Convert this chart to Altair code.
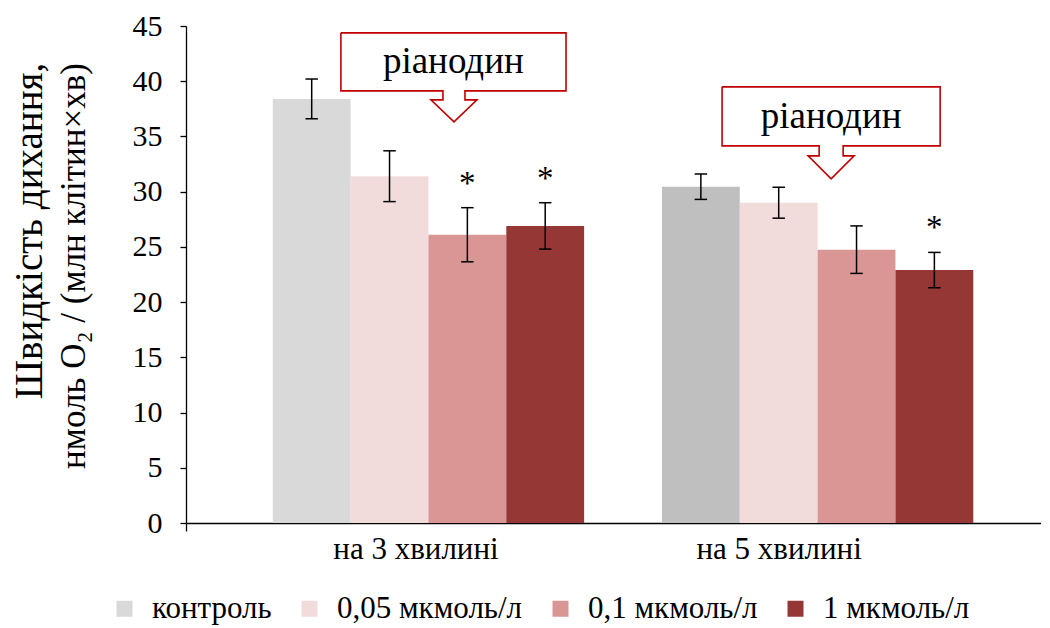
import altair as alt
import pandas as pd

# ---------------- data ----------------
groups = ["на 3 хвилині", "на 5 хвилині"]
series = ["контроль", "0,05 мкмоль/л", "0,1 мкмоль/л", "1 мкмоль/л"]
means_3 = [38.4, 31.4, 26.1, 26.9]
err_3 = [1.8, 2.3, 2.45, 2.1]
means_5 = [30.45, 29.0, 24.75, 22.9]
err_5 = [1.15, 1.4, 2.15, 1.6]
sig_3 = [False, False, True, True]
sig_5 = [False, False, False, True]
y_ticks = [0, 5, 10, 15, 20, 25, 30, 35, 40, 45]

series_colors = ["#D9D9D9", "#F2DCDB", "#D99694", "#953735"]
control_5_key = "контроль (5 хв)"
control_5_color = "#BFBFBF"

callout_text = "ріанодин"
# callout outlines (x in group units, y in axis units)
callout1_x = [0.775, 1.3535, 1.3535, 1.0938, 1.0938, 1.1247, 1.0656, 1.0064, 1.0373, 1.0373, 0.775, 0.775]
callout1_y = [44.38, 44.38, 39.13, 39.13, 38.31, 38.31, 36.32, 38.31, 38.31, 39.13, 39.13, 44.38]
callout2_x = [1.7545, 2.3149, 2.3149, 2.0656, 2.0656, 2.0938, 2.0347, 1.9756, 2.0039, 2.0039, 1.7545, 1.7545]
callout2_y = [39.49, 39.49, 34.15, 34.15, 33.24, 33.24, 31.16, 33.24, 33.24, 34.15, 34.15, 39.49]
callout_text_x = [1.064, 2.0347]
callout_text_y = [40.76, 35.78]

group_label_x = [0.968, 1.901]

FONT = "Liberation Serif"
BAR_W = 0.2
X_DOMAIN = [0.377, 2.574]

# ---------------- tables ----------------
rows = []
for gi, (g, means, errs, sigs) in enumerate(
    [(groups[0], means_3, err_3, sig_3), (groups[1], means_5, err_5, sig_5)]
):
    for si, s in enumerate(series):
        x0 = (gi + 1) - 0.4 + BAR_W * si
        key = s
        if gi == 1 and si == 0:
            key = control_5_key
        rows.append(
            dict(
                group=g,
                series=s,
                key=key,
                x0=x0,
                x1=x0 + BAR_W,
                xc=x0 + BAR_W / 2,
                capL=x0 + BAR_W / 2 - 0.016,
                capR=x0 + BAR_W / 2 + 0.016,
                mean=means[si],
                lo=means[si] - errs[si],
                hi=means[si] + errs[si],
                sig="*" if sigs[si] else "",
            )
        )
df = pd.DataFrame(rows)

outline = pd.DataFrame(
    [dict(shape=1, order=i, x=x, y=y) for i, (x, y) in enumerate(zip(callout1_x, callout1_y))]
    + [dict(shape=2, order=i, x=x, y=y) for i, (x, y) in enumerate(zip(callout2_x, callout2_y))]
)
ctext = pd.DataFrame(dict(x=callout_text_x, y=callout_text_y, t=[callout_text, callout_text]))
glabels = pd.DataFrame(dict(x=group_label_x, t=groups))

xscale = alt.Scale(domain=X_DOMAIN, nice=False, zero=False)
yscale = alt.Scale(domain=[0, 45], nice=False)

color_scale = alt.Scale(
    domain=series + [control_5_key], range=series_colors + [control_5_color]
)

base = alt.Chart(df)

bars = base.mark_rect().encode(
    x=alt.X(
        "x0:Q",
        scale=xscale,
        axis=alt.Axis(
            values=[X_DOMAIN[0]],
            labels=False,
            title=None,
            domainColor="black",
            domainWidth=1.3,
            tickColor="black",
            tickSize=8,
            tickWidth=1.3,
            grid=False,
        ),
    ),
    x2="x1:Q",
    y=alt.Y(
        "mean:Q",
        scale=yscale,
        axis=alt.Axis(
            values=y_ticks,
            title=None,
            grid=False,
            domainColor="black",
            domainWidth=1.3,
            tickColor="black",
            tickSize=6,
            tickWidth=1.3,
            labelFont=FONT,
            labelFontSize=30,
            labelColor="black",
            labelPadding=18,
        ),
    ),
    y2=alt.datum(0),
    color=alt.Color(
        "key:N",
        scale=color_scale,
        legend=alt.Legend(
            values=series,
            title=None,
            orient="none",
            legendX=-77,
            legendY=567,
            direction="horizontal",
            symbolType="square",
            symbolSize=256,
            symbolStrokeWidth=0,
            labelFont=FONT,
            labelFontSize=31,
            labelColor="black",
            labelOffset=12,
            columnPadding=22,
            labelLimit=400,
        ),
    ),
)

err_v = base.mark_rule(color="black", strokeWidth=1.5).encode(
    x="xc:Q", y="lo:Q", y2="hi:Q"
)
cap_lo = base.mark_rule(color="black", strokeWidth=1.5).encode(
    x="capL:Q", x2="capR:Q", y="lo:Q"
)
cap_hi = base.mark_rule(color="black", strokeWidth=1.5).encode(
    x="capL:Q", x2="capR:Q", y="hi:Q"
)
stars = base.mark_text(
    font=FONT, fontSize=33, color="black", baseline="alphabetic", dy=-14
).encode(x="xc:Q", y="hi:Q", text="sig:N")

callout_lines = alt.Chart(outline).mark_line(
    color="#C00000", strokeWidth=1.6, strokeJoin="miter"
).encode(x="x:Q", y="y:Q", detail="shape:N", order="order:Q")

callout_labels = alt.Chart(ctext).mark_text(
    font=FONT, fontSize=37, color="black", baseline="alphabetic"
).encode(x="x:Q", y="y:Q", text="t:N")

group_text = alt.Chart(glabels).mark_text(
    font=FONT, fontSize=31, color="black", baseline="alphabetic"
).encode(x="x:Q", y=alt.value(533), text="t:N")

ytitle1 = alt.Chart(pd.DataFrame({"t": ["Швидкість дихання,"]})).mark_text(
    font=FONT, fontSize=39, color="black", angle=270, baseline="alphabetic", align="center"
).encode(x=alt.value(-144), y=alt.value(205), text="t:N")

ytitle2 = alt.Chart(pd.DataFrame({"t": ["нмоль O₂ / (млн клітин×хв)"]})).mark_text(
    font=FONT, fontSize=35, color="black", angle=270, baseline="alphabetic", align="center"
).encode(x=alt.value(-101), y=alt.value(240), text="t:N")

chart = (
    alt.layer(
        bars, err_v, cap_lo, cap_hi, stars, callout_lines, callout_labels,
        group_text, ytitle1, ytitle2
    )
    .properties(
        width=855,
        height=497,
        autosize=alt.AutoSizeParams(type="none"),
        padding={"left": 178, "top": 18, "right": 0, "bottom": 105},
        background="white",
    )
    .configure_view(stroke=None)
)

chart.save("out.html", embed_options={"renderer": "svg", "actions": False})
